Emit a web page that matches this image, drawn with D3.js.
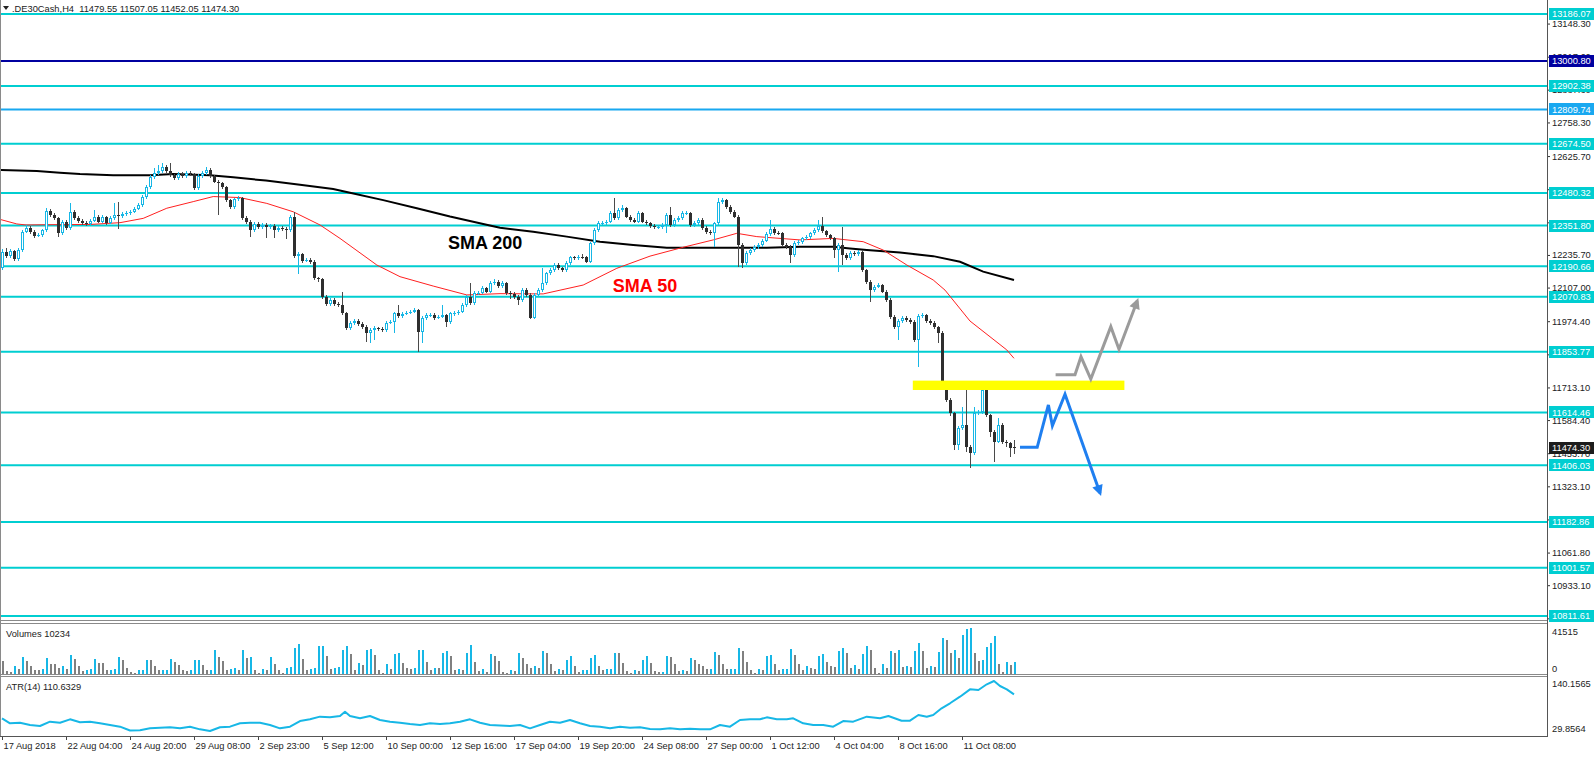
<!DOCTYPE html>
<html><head><meta charset="utf-8">
<script src="https://cdn.jsdelivr.net/npm/d3@7"></script>
<style>
html,body{margin:0;padding:0;background:#fff;overflow:hidden}
svg{display:block}
text{font-family:"Liberation Sans",Arial,sans-serif}
</style></head><body>
<svg id="c" width="1594" height="762"></svg>
<script>
// ---------------- DATA ----------------
const symbolTitle = ".DE30Cash,H4  11479.55 11507.05 11452.05 11474.30";
const opens = [
12183,12249,12231,12251,12218,12255,12328,12341,12328,12310,
12314,12334,12410,12393,12380,12321,12367,12341,12406,12380,
12371,12363,12358,12371,12387,12367,12384,12363,12380,12392,
12389,12397,12400,12405,12418,12431,12463,12502,12542,12558,
12568,12581,12568,12551,12538,12555,12547,12558,12555,12498,
12547,12560,12571,12547,12525,12518,12502,12452,12423,12455,
12459,12380,12367,12334,12358,12347,12354,12345,12350,12334,
12341,12337,12334,12387,12231,12239,12213,12216,12209,12143,
12139,12071,12042,12058,12042,12038,12005,11946,11966,11976,
11963,11953,11926,11940,11946,11942,11940,11969,11972,12005,
11995,12003,12008,12012,12019,11933,11986,11999,11999,11988,
11992,11999,11972,12005,12005,12012,12038,12071,12045,12084,
12087,12104,12091,12124,12130,12113,12124,12084,12082,12071,
12058,12097,12078,11986,12078,12097,12124,12163,12176,12196,
12183,12176,12203,12226,12222,12229,12226,12209,12281,12334,
12360,12360,12367,12400,12380,12413,12420,12387,12374,12367,
12400,12367,12360,12350,12347,12347,12354,12393,12354,12374,
12380,12400,12400,12354,12360,12374,12341,12327,12321,12360,
12446,12452,12426,12406,12387,12275,12203,12242,12255,12268,
12275,12292,12318,12337,12324,12321,12275,12268,12235,12284,
12288,12301,12308,12321,12334,12350,12330,12314,12301,12255,
12275,12235,12222,12245,12239,12249,12176,12130,12097,12111,
12117,12091,12058,11992,11950,11976,11986,11979,11972,11900,
11995,11999,11976,11969,11950,11929,11729,11664,11611,11486,
11552,11565,11479,11453,11611,11618,11703,11604,11539,11499,
11565,11499,11493,11479.55];
const closes = [
12249,12231,12251,12218,12255,12328,12341,12328,12310,12314,
12334,12410,12393,12380,12321,12367,12341,12406,12380,12371,
12363,12358,12371,12387,12367,12384,12363,12380,12392,12389,
12397,12400,12405,12418,12431,12463,12502,12542,12558,12568,
12581,12568,12551,12538,12555,12547,12558,12555,12498,12547,
12560,12571,12547,12525,12518,12502,12452,12423,12455,12459,
12380,12367,12334,12358,12347,12354,12345,12350,12334,12341,
12337,12334,12387,12231,12239,12213,12216,12209,12143,12139,
12071,12042,12058,12042,12038,12005,11946,11966,11976,11963,
11953,11926,11940,11946,11942,11940,11969,11972,12005,11995,
12003,12008,12012,12019,11933,11986,11999,11999,11988,11992,
11999,11972,12005,12005,12012,12038,12071,12045,12084,12087,
12104,12091,12124,12130,12113,12124,12084,12082,12071,12058,
12097,12078,11986,12078,12097,12124,12163,12176,12196,12183,
12176,12203,12226,12222,12229,12226,12209,12281,12334,12360,
12360,12367,12400,12380,12413,12420,12387,12374,12367,12400,
12367,12360,12350,12347,12347,12354,12393,12354,12374,12380,
12400,12400,12354,12360,12374,12341,12327,12321,12360,12446,
12452,12426,12406,12387,12275,12203,12242,12255,12268,12275,
12292,12318,12337,12324,12321,12275,12268,12235,12284,12288,
12301,12308,12321,12334,12350,12330,12314,12301,12255,12275,
12235,12222,12245,12239,12249,12176,12130,12097,12111,12117,
12091,12058,11992,11950,11976,11986,11979,11972,11900,11995,
11999,11976,11969,11950,11929,11729,11664,11611,11486,11552,
11565,11479,11453,11611,11618,11703,11604,11539,11499,11565,
11499,11493,11473,11474.30];
const highs = [
12258,12262,12258,12256,12262,12336,12352,12348,12334,12322,
12340,12420,12418,12400,12386,12375,12372,12439,12414,12388,
12378,12370,12378,12413,12392,12392,12390,12388,12440,12446,
12405,12408,12412,12425,12440,12472,12512,12550,12577,12590,
12597,12590,12597,12556,12562,12562,12565,12566,12560,12556,
12568,12584,12578,12552,12532,12525,12508,12458,12462,12470,
12465,12388,12372,12365,12364,12362,12360,12358,12356,12348,
12348,12345,12395,12406,12248,12245,12224,12224,12215,12150,
12145,12078,12066,12064,12050,12091,12010,11974,11984,11982,
11970,11960,11948,11954,11952,11950,11976,11980,12012,12038,
12010,12015,12018,12026,12024,11994,12006,12006,12005,12000,
12038,12004,12012,12014,12020,12045,12078,12124,12092,12095,
12112,12110,12132,12140,12136,12132,12130,12092,12088,12078,
12105,12104,12084,12086,12105,12183,12170,12184,12204,12203,
12190,12210,12233,12232,12236,12240,12232,12288,12342,12368,
12368,12375,12408,12459,12420,12433,12425,12392,12380,12408,
12405,12372,12365,12356,12354,12360,12400,12426,12380,12388,
12408,12410,12406,12368,12382,12380,12348,12335,12366,12459,
12460,12458,12432,12412,12393,12282,12250,12262,12275,12282,
12300,12326,12374,12345,12332,12328,12282,12275,12292,12296,
12308,12316,12328,12342,12374,12387,12336,12320,12308,12282,
12347,12242,12252,12252,12256,12256,12182,12136,12118,12125,
12122,12096,12064,11998,11984,11993,11994,11988,11978,12002,
12006,12004,11982,11975,11956,11934,11735,11670,11616,11560,
11637,11703,11485,11637,11626,11709,11708,11610,11545,11591,
11572,11505,11498,11507.05];
const lows = [
12176,12222,12224,12212,12212,12248,12322,12320,12302,12305,
12308,12328,12386,12372,12308,12314,12334,12336,12372,12363,
12355,12350,12352,12364,12360,12360,12355,12358,12374,12340,
12382,12390,12394,12400,12412,12425,12455,12495,12535,12550,
12560,12560,12545,12530,12531,12540,12540,12547,12492,12492,
12540,12552,12540,12518,12393,12495,12444,12415,12418,12448,
12372,12358,12308,12326,12338,12340,12301,12338,12301,12326,
12330,12297,12328,12224,12161,12205,12206,12200,12135,12130,
12062,12035,12036,12034,12030,11998,11938,11938,11958,11955,
11945,11894,11887,11900,11935,11932,11933,11962,11926,11988,
11988,11998,12002,12006,11854,11887,11978,11990,11980,11982,
11986,11953,11965,11996,11998,12005,12030,12038,12038,12076,
12080,12084,12084,12116,12105,12106,12076,12060,12062,12038,
12050,12070,11982,11982,12070,12090,12116,12156,12170,12175,
12168,12170,12196,12214,12215,12218,12202,12202,12274,12326,
12352,12352,12360,12372,12372,12405,12380,12366,12360,12360,
12360,12352,12343,12340,12340,12340,12321,12346,12346,12366,
12372,12392,12346,12346,12352,12334,12320,12313,12268,12352,
12438,12418,12398,12380,12189,12183,12196,12235,12248,12260,
12268,12285,12310,12316,12313,12268,12260,12203,12228,12276,
12280,12294,12300,12314,12326,12322,12306,12294,12222,12170,
12196,12214,12215,12230,12230,12168,12122,12051,12090,12104,
12084,12050,11985,11942,11900,11968,11970,11964,11892,11795,
11988,11968,11960,11942,11887,11720,11655,11602,11466,11466,
11545,11460,11394,11446,11604,11610,11596,11519,11420,11492,
11490,11479,11440,11452.05];
const volumes = [
11400,2100,1500,6600,3900,15000,11400,6900,3600,3300,
3700,13800,9000,8400,5400,6600,4500,16500,12900,6600,
2100,3600,3700,12900,9900,9600,3000,3600,3700,14700,
12000,5400,1500,300,3000,3100,12000,11900,6900,3000,
3100,3200,12900,10500,7500,3000,2400,3000,12000,12100,
8100,3000,3600,21000,15000,11100,3600,4500,4600,3600,
21000,14100,14700,3000,600,4500,3600,14700,8400,3000,
300,5400,5500,22800,26400,13500,3000,4500,4600,24600,
24700,15900,3900,5400,5500,21600,24600,18000,3600,9900,
7500,21000,22500,17100,3600,600,8400,4500,18000,18900,
9600,5400,4500,4600,21000,21100,10500,3600,5400,5300,
18600,20100,15900,3600,4500,3600,18600,26100,10500,2400,
3900,1500,18000,15900,11400,
1220,150,3050,2135,18910,14335,8540,5185,6710,5185,
20435,18910,8540,2440,3965,3050,12200,15860,6710,1525,
3050,3100,13725,16775,6710,3050,3660,4270,18605,18500,
9760,2135,200,3050,2135,12200,15860,9760,2440,1220,
1300,15860,15250,8540,2135,3050,2440,13725,12200,8540,
6710,3965,4000,19520,16775,8540,3965,4000,4050,23180,
20435,10675,3050,610,3660,3050,15860,16775,8540,3050,
3965,4000,21960,16775,8540,3050,6710,4575,3965,15860,
17690,10675,6710,6100,20435,22875,18910,5185,7625,3965,
17690,25010,21350,5185,200,8540,5185,20435,18300,21350,
5490,6710,5490,20435,27450,20435,5185,6710,6100,19215,
32025,30500,18910,21350,13725,34465,40565,41515,18910,11590,
12200,23485,27450,34160,8540,1220,10065,7625,10234];
// ATR(14): [bar index, value]
const atrPoints = [[0,57.8],[2,46.8],[4.5,48.2],[7,43.1],[9.5,40.9],[12,50.4],[14.5,48.2],[17,55.6],[19.5,49.0],[22,50.4],[24.5,46.8],[27,43.1],[29.5,39.4],[32,31],[34.5,31.5],[37,35.7],[39.5,37.2],[42,38.0],[44.5,35.7],[47,39.4],[49.5,33.5],[52,29.9],[54.5,38.0],[57,39.4],[59.5,46.8],[62,48.2],[64.5,48.2],[67,43.1],[69.5,35.7],[72,39.4],[74.5,51.9],[77,55.6],[79.5,61.5],[82,60.0],[84.5,62.9],[85.75,72.5],[87,62.9],[89.5,57.8],[92,62.9],[94.5,54.1],[97,50.4],[99.5,48.2],[102,45.3],[104.5,43.1],[107,46.8],[109.5,45.3],[112,46.8],[114.5,50.4],[117,55.6],[119.5,48.2],[122,43.1],[124.5,42],[127,40.9],[129.5,43.1],[132,35.7],[134.5,43.1],[137,50.4],[139.5,48.2],[142,54.1],[144.5,46.8],[147,40.9],[149.5,39.4],[152,35.7],[154.5,39.4],[157,37.2],[159.5,38.0],[162,34.2],[164.5,33.5],[167,35.7],[169.5,33.5],[172,35.0],[174.5,33.5],[177,33.5],[179.5,43.1],[182,39.4],[184.5,54.1],[187,55.6],[189.5,55.6],[191.2,60.0],[193.7,55.6],[196.2,55.6],[197.8,57.8],[200.3,46.8],[202.8,43.1],[205.3,43.1],[207.8,39.4],[210.3,51.9],[212.8,50.4],[216.2,61.5],[219.5,57.9],[221.6,63],[224.9,52.6],[227,52.6],[229.1,65.2],[231.2,61.4],[232.8,65.2],[234.9,79.9],[237,91],[239.5,105.5],[242,121.8],[244.1,120.3],[246.2,132.9],[248,140.1565],[249.5,129.1],[251.2,121.8],[253,110.6329]];
// moving averages: [bar index, value]
const sma200 = [[-0.5,12571],[8.7,12567],[14.5,12560],[19.5,12555],[27.8,12550],[37,12550],[42.8,12555],[52,12550],[57.8,12542],[66,12529],[74.5,12513],[82.8,12496],[87,12481],[95.3,12452],[103.7,12420],[112,12387],[120.3,12358],[124.5,12343],[132.8,12327],[141.2,12308],[149.5,12288],[157.8,12275],[166.2,12264],[174.5,12264],[182.8,12264],[191.2,12264],[199.5,12268],[207.8,12268],[212,12261],[216.2,12255],[224.5,12245],[232.8,12231],[239.5,12209],[245.3,12170],[253,12137]];
const sma50 = [[-0.5,12376],[3.7,12358],[6,12354],[12,12355],[22,12356],[29.5,12363],[35.3,12380],[41.2,12420],[47.8,12446],[52.8,12466],[59.5,12462],[66.2,12439],[72.8,12406],[79.5,12354],[84.5,12301],[93.7,12196],[99.5,12150],[107.8,12113],[116.2,12078],[124.5,12083],[135.3,12082],[145.3,12117],[153.7,12183],[162,12231],[170.3,12266],[177.8,12295],[183.7,12321],[188.7,12308],[199.5,12295],[207.8,12301],[215.3,12288],[220.3,12255],[226.2,12196],[232.8,12137],[235.75,12097],[242,11975],[251.2,11861],[253,11828]];
const levelValues = [13186.07,13000.80,12902.38,12809.74,12674.50,12480.32,12351.80,12190.66,12070.83,11853.77,11614.46,11406.03,11182.86,11001.57,10811.61];
const priceTicks = [13148.30,13017.60,12887.60,12758.30,12625.70,12495.00,12364.40,12235.70,12107.00,11974.40,11843.70,11713.10,11584.40,11453.70,11323.10,11192.50,11061.80,10933.10,10802.40];
const timeLabels = ["17 Aug 2018","22 Aug 04:00","24 Aug 20:00","29 Aug 08:00","2 Sep 23:00","5 Sep 12:00","10 Sep 00:00","12 Sep 16:00","17 Sep 04:00","19 Sep 20:00","24 Sep 08:00","27 Sep 00:00","1 Oct 12:00","4 Oct 04:00","8 Oct 16:00","11 Oct 08:00"];
const timeLabelBars = [0,16,32,48,64,80,96,112,128,144,160,176,192,208,224,240];
// drawn annotations in (bar index, price)
const grayScenario = [[263.4,11763],[268.25,11763],[269.75,11834],[272.2,11746],[277.2,11953],[279.25,11864],[283.8,12054]];
const blueScenario = [[254.5,11477],[258.8,11477],[261.6,11644],[262.6,11562],[265.75,11686],[274.5,11297]];
const resistanceZone = {from:227.7, to:280.6, low:11703, high:11740};
const smaLabels = [{text:"SMA 200", bar:111.5, price:12284, kind:"sma200"},{text:"SMA 50", bar:152.7, price:12114, kind:"sma50"}];
const volumeMax = 41515, atrMin = 29.8564, atrMax = 140.1565;

// ---------------- DRAW ----------------
const svg = d3.select("#c");
const AX = 1547;              // right price-axis x
const CYAN = "#17b7e6", BEAR = "#2e2e2e", BEARW = "#4a4a4a";
const LEVEL = "#00CED1";
const FS = 9.3;
const levelColor = v => v === 13000.80 ? "#0000A0" : (v === 12809.74 ? "#19A8F0" : LEVEL);

const x = d3.scaleLinear().domain([0, 253]).range([2, 1014]);
const y = d3.scaleLinear().domain([10811.61, 13186.07]).range([616, 14]);
const yV = d3.scaleLinear().domain([0, volumeMax]).range([673.5, 627.5]);
const yA = d3.scaleLinear().domain([atrMin, atrMax]).range([731, 681]);

const defs = svg.append("defs");
defs.append("clipPath").attr("id","cMain").append("rect").attr("x",1).attr("y",0).attr("width",AX-1).attr("height",620);
defs.append("clipPath").attr("id","cVol").append("rect").attr("x",1).attr("y",624).attr("width",AX-1).attr("height",50);
defs.append("clipPath").attr("id","cAtr").append("rect").attr("x",1).attr("y",677).attr("width",AX-1).attr("height",58.5);
function marker(id, color){
  defs.append("marker").attr("id",id).attr("viewBox","0 0 10 10").attr("refX",7).attr("refY",5)
    .attr("markerWidth",4.2).attr("markerHeight",3.6).attr("orient","auto")
    .append("path").attr("d","M0,0 L10,5 L0,10 z").attr("fill",color);
}
marker("ahGray","#9b9b9b");
marker("ahBlue","#1f7ff0");

// frame lines
const frame = svg.append("g").attr("stroke","#8a8a8a").attr("stroke-width",1).attr("shape-rendering","crispEdges");
[[0.5,0,0.5,736],[0,620.5,AX,620.5],[0,623.5,AX,623.5],[0,674.5,AX,674.5],[0,676.5,AX,676.5]].forEach(l=>{
  frame.append("line").attr("x1",l[0]).attr("y1",l[1]).attr("x2",l[2]).attr("y2",l[3]);
});

// ---- main panel ----
const main = svg.append("g").attr("clip-path","url(#cMain)");
// horizontal levels
main.selectAll("line.lvl").data(levelValues).join("line").attr("class","lvl")
  .attr("x1",0).attr("x2",AX).attr("y1",d=>y(d)).attr("y2",d=>y(d))
  .attr("stroke",d=>levelColor(d)).attr("stroke-width",2);

// moving averages
const maLine = d3.line().x(d=>x(d[0])).y(d=>y(d[1]));
main.append("path").attr("d",maLine(sma200)).attr("fill","none").attr("stroke","#000").attr("stroke-width",2);
main.append("path").attr("d",maLine(sma50)).attr("fill","none").attr("stroke","#ff2020").attr("stroke-width",1);

// candles
const bars = closes.map((c,i)=>({i,o:opens[i],h:highs[i],l:lows[i],c}));
const cg = main.append("g").attr("shape-rendering","crispEdges");
bars.forEach(b=>{
  const cx = Math.round(x(b.i));
  const up = b.c >= b.o;
  cg.append("line").attr("x1",cx+0.5).attr("x2",cx+0.5)
    .attr("y1",y(Math.max(b.h,b.o,b.c))).attr("y2",y(Math.min(b.l,b.o,b.c)))
    .attr("stroke", up ? CYAN : BEARW).attr("stroke-width",1);
  const top = Math.round(y(Math.max(b.o,b.c))), bot = Math.round(y(Math.min(b.o,b.c)));
  const hgt = Math.max(1, bot - top);
  cg.append("rect").attr("x",cx-1).attr("y",top).attr("width",3).attr("height",hgt)
    .attr("fill", up ? CYAN : BEAR);
  if (up && hgt > 2) cg.append("rect").attr("x",cx).attr("y",top+1).attr("width",1).attr("height",hgt-2).attr("fill","#fff");
});

// annotations
const zone = resistanceZone;
main.append("rect").attr("x",x(zone.from)).attr("width",x(zone.to)-x(zone.from))
  .attr("y",y(zone.high)).attr("height",y(zone.low)-y(zone.high)).attr("fill","#ffff00");
const scen = d3.line().x(d=>x(d[0])).y(d=>y(d[1]));
main.append("path").attr("d",scen(grayScenario)).attr("fill","none").attr("stroke","#9b9b9b")
  .attr("stroke-width",3).attr("stroke-linejoin","miter").attr("marker-end","url(#ahGray)");
main.append("path").attr("d",scen(blueScenario)).attr("fill","none").attr("stroke","#1f7ff0")
  .attr("stroke-width",3).attr("stroke-linejoin","miter").attr("marker-end","url(#ahBlue)");
main.selectAll("text.sma").data(smaLabels).join("text").attr("class","sma")
  .attr("x",d=>x(d.bar)).attr("y",d=>y(d.price)).attr("dy","0.36em")
  .attr("font-size",18).attr("font-weight","bold")
  .attr("fill",d=>d.kind==="sma50" ? "#ff0000" : "#000").text(d=>d.text);

// title
svg.append("path").attr("d","M3,6 L9,6 L6,10 Z").attr("fill","#222");
svg.append("text").attr("x",12).attr("y",9).attr("dy","0.35em").attr("font-size",FS).attr("fill","#222")
  .attr("xml:space","preserve").style("white-space","pre").text(symbolTitle);

// ---- volume panel ----
const vg = svg.append("g").attr("clip-path","url(#cVol)").attr("shape-rendering","crispEdges");
vg.selectAll("rect").data(volumes).join("rect")
  .attr("x",(d,i)=>Math.round(x(i))).attr("width",2)
  .attr("y",d=>yV(d)).attr("height",d=>yV(0)-yV(d))
  .attr("fill",(d,i)=> i>0 && d > volumes[i-1] ? CYAN : "#808080");
svg.append("text").attr("x",6).attr("y",634).attr("dy","0.35em").attr("font-size",FS).attr("fill","#222").text("Volumes " + volumes[volumes.length-1]);

// ---- ATR panel ----
const ag = svg.append("g").attr("clip-path","url(#cAtr)");
ag.append("path").attr("d",d3.line().x(d=>x(d[0])).y(d=>yA(d[1]))(atrPoints))
  .attr("fill","none").attr("stroke",CYAN).attr("stroke-width",2).attr("stroke-linejoin","round");
svg.append("text").attr("x",6).attr("y",687).attr("dy","0.35em").attr("font-size",FS).attr("fill","#222")
  .text("ATR(14) " + atrPoints[atrPoints.length-1][1].toFixed(4));

// ---- right price axis ----
const ya = svg.append("g").attr("transform",`translate(${AX},0)`)
  .call(d3.axisRight(y).tickValues(priceTicks).tickSize(3).tickPadding(2).tickFormat(d3.format(".2f")));
ya.select(".domain").remove();
ya.selectAll("line").attr("stroke","#333");
ya.selectAll("text").attr("font-size",FS).attr("fill","#222").attr("font-family",'"Liberation Sans",Arial,sans-serif');

// level labels
const lbl = svg.append("g");
levelValues.forEach(v=>{
  lbl.append("rect").attr("x",AX+2).attr("y",Math.round(y(v))-6).attr("width",1594-AX-2).attr("height",12).attr("fill",levelColor(v));
  lbl.append("text").attr("x",AX+5).attr("y",y(v)).attr("dy","0.35em").attr("font-size",FS).attr("fill","#fff").text(d3.format(".2f")(v));
});
const lastClose = closes[closes.length-1];
lbl.append("rect").attr("x",AX+2).attr("y",Math.round(y(lastClose))-6).attr("width",1594-AX-2).attr("height",12).attr("fill","#1c1c1c");
lbl.append("text").attr("x",AX+5).attr("y",y(lastClose)).attr("dy","0.35em").attr("font-size",FS).attr("fill","#fff").text(d3.format(".2f")(lastClose));

// sub-window scale labels
const sub = svg.append("g").attr("font-size",FS).attr("fill","#222");
sub.append("text").attr("x",AX+5).attr("y",yV(volumeMax)+4).attr("dy","0.35em").text(volumeMax);
sub.append("text").attr("x",AX+5).attr("y",yV(0)-4.5).attr("dy","0.35em").text(0);
sub.append("text").attr("x",AX+5).attr("y",yA(atrMax)+3).attr("dy","0.35em").text(atrMax.toFixed(4));
sub.append("text").attr("x",AX+5).attr("y",yA(atrMin)-2).attr("dy","0.35em").text(atrMin.toFixed(4));

// right axis vertical line
svg.append("line").attr("x1",AX+0.5).attr("x2",AX+0.5).attr("y1",0).attr("y2",736.5).attr("stroke","#555").attr("shape-rendering","crispEdges");

// ---- time axis ----
const xa = svg.append("g").attr("transform","translate(0,736)")
  .call(d3.axisBottom(x).tickValues(timeLabelBars).tickSize(4).tickPadding(2).tickFormat((d,i)=>timeLabels[i]));
xa.select(".domain").remove();
xa.selectAll("line").attr("stroke","#444");
xa.selectAll("text").attr("text-anchor","start").attr("dx",1).attr("font-size",FS).attr("fill","#222")
  .attr("font-family",'"Liberation Sans",Arial,sans-serif');
svg.append("line").attr("x1",0).attr("x2",AX+1).attr("y1",736.5).attr("y2",736.5).attr("stroke","#555").attr("shape-rendering","crispEdges");
</script>
</body></html>
